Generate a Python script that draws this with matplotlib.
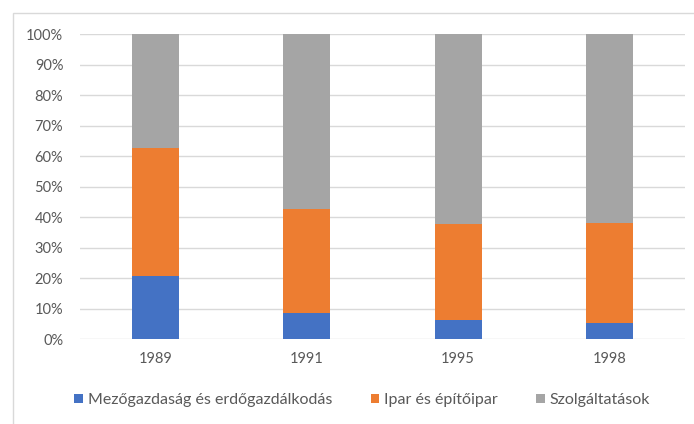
import matplotlib.pyplot as plt
import numpy as np
from matplotlib.patches import Rectangle
from matplotlib.ticker import PercentFormatter

# Adatok
evek = ['1989', '1991', '1995', '1998']
mezogazdasag = [20.8, 8.6, 6.4, 5.2]
ipar = [41.7, 34.2, 31.3, 33.0]
szolgaltatas = [37.5, 57.2, 62.3, 61.8]

nevek = ['Mezőgazdaság és erdőgazdálkodás', 'Ipar és építőipar', 'Szolgáltatások']
szinek = ['#4472C4', '#ED7D31', '#A5A5A5']
szoveg = '#595959'

plt.rcParams['font.family'] = ['Lato', 'DejaVu Sans']

fig = plt.figure(figsize=(6.94, 4.24), dpi=100)
ax = fig.add_axes([80 / 694, 1 - 339.3 / 424, 605 / 694, 305.3 / 424])

x = np.arange(len(evek))
alj = np.zeros(len(evek))
for ertek, nev, szin in zip([mezogazdasag, ipar, szolgaltatas], nevek, szinek):
    ax.bar(x, ertek, 0.31, bottom=alj, color=szin, label=nev, zorder=3)
    alj += np.array(ertek)

ax.set_xlim(-0.5, len(evek) - 0.5)
ax.set_ylim(0, 100)
ax.set_yticks(np.arange(0, 101, 10))
ax.yaxis.set_major_formatter(PercentFormatter(decimals=0))
ax.set_xticks(x)
ax.set_xticklabels(evek)
ax.grid(axis='y', color='#D9D9D9', linewidth=1, zorder=0)
for s in ax.spines.values():
    s.set_visible(False)
ax.tick_params(length=0, labelsize=10.5, labelcolor=szoveg)
ax.tick_params(axis='y', pad=12)
ax.tick_params(axis='x', pad=9)

leg = fig.legend(loc='center', bbox_to_anchor=(0.522, 1 - 400 / 424), ncol=3,
                 frameon=False, fontsize=11.5, handlelength=0.55, handleheight=0.55,
                 handletextpad=0.3, columnspacing=2.4)
for t in leg.get_texts():
    t.set_color(szoveg)

# keret
fig.patches.append(Rectangle((12.5 / 694, -0.1), 1.2, 1 - 13 / 424 + 0.1,
                             transform=fig.transFigure, fill=False,
                             edgecolor='#D9D9D9', linewidth=1))

fig.savefig('out.png', dpi=100)
